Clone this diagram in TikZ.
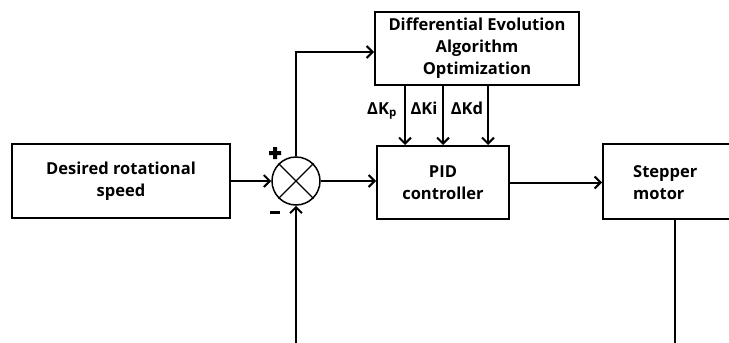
\documentclass[tikz,border=0pt]{standalone}
\usepackage{fontspec}
\setmainfont{Open Sans}
\usetikzlibrary{arrows.meta}
\begin{document}
\begin{tikzpicture}[x=1pt,y=-1pt,
  blk/.style={draw,line width=2pt,inner sep=0pt},
  conn/.style={line width=2pt},
  arr/.style={conn,-{Straight Barb[length=6pt,width=12pt,line width=2pt]}},
  txt/.style={font=\fontsize{16.5}{22}\selectfont\bfseries,align=center,inner sep=0pt},
  sgn/.style={fill=black,draw=none}
]
\useasboundingbox (0,0) rectangle (729,343);
\begin{scope}
\clip (0,0) rectangle (729,343);
% boxes
\node[blk,minimum width=218pt,minimum height=74pt] (des) at (121,181) {};
\node[txt] at (des.center) {Desired rotational\\speed};
\node[blk,minimum width=204pt,minimum height=73pt] (de) at (477,48.5) {};
\node[txt] at (de.center) {Differential Evolution\\Algorithm\\Optimization};
\node[blk,minimum width=132pt,minimum height=73pt] (pid) at (443,182.5) {};
\node[txt] at (pid.center) {PID\\controller};
\node[blk,minimum width=140pt,minimum height=75pt] (sm) at (673,181.5) {};
\node[txt,align=left,anchor=west] at (633,182.5) {Stepper\\motor};
% summing junction
\node[draw,circle,line width=1.5pt,minimum size=48pt,inner sep=0pt] (sum) at (296,181) {};
\draw[line width=1.3pt] (sum.north west) -- (sum.south east) (sum.north east) -- (sum.south west);
\fill[sgn] (273,147) rectangle (277,159) (269,151) rectangle (281,155);
\fill[sgn] (270,210.5) rectangle (280,214);
% coordinates
\coordinate (b1) at (296,343);
\coordinate (b2) at (675,343);
\coordinate (tc) at (296,52);
% connectors
\draw[arr] (des.east) -- (sum.west);
\draw[arr] (sum.east) -- (pid.west |- sum.east);
\draw[arr] (pid.east) -- (sm.west |- pid.east);
\draw[arr] (sum.north) -- (tc) -- (de.west |- tc);
\draw[arr] (b1) -- (sum.south);
\draw[conn] (sm.south -| b2) -- (b2);
\draw[arr] (de.south -| 405,0) -- (pid.north -| 405,0);
\draw[arr] (de.south -| 443,0) -- (pid.north -| 443,0);
\draw[arr] (de.south -| 488,0) -- (pid.north -| 488,0);
\node[txt,anchor=base] at (382,114) {ΔK\textsubscript{p}};
\node[txt,anchor=base] at (424,114) {ΔKi};
\node[txt,anchor=base] at (467,114) {ΔKd};
\end{scope}
\end{tikzpicture}
\end{document}
